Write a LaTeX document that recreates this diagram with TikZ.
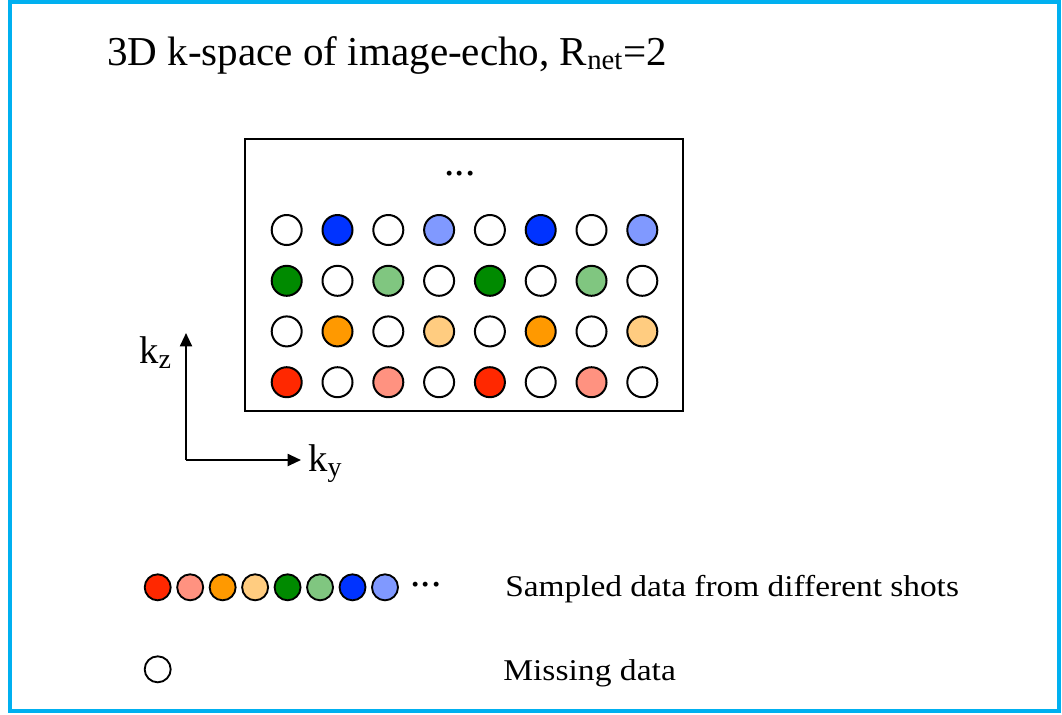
\documentclass[tikz,border=0pt]{standalone}
\usepackage{fontspec}
\setmainfont{Liberation Serif}
\usetikzlibrary{arrows.meta}
\definecolor{frameblue}{RGB}{0,176,240}
\definecolor{cRed}{RGB}{255,40,0}
\definecolor{cRedL}{RGB}{255,146,128}
\definecolor{cOra}{RGB}{255,153,0}
\definecolor{cOraL}{RGB}{255,204,128}
\definecolor{cGre}{RGB}{0,138,0}
\definecolor{cGreL}{RGB}{128,198,128}
\definecolor{cBlu}{RGB}{0,51,255}
\definecolor{cBluL}{RGB}{128,153,255}
\newcommand{\ksub}[1]{{\fontsize{21}{24}\selectfont\raisebox{-4pt}{#1}}}
\tikzset{
  dot/.style={circle, draw=black, line width=1.5pt, minimum size=22.5pt, inner sep=0pt},
  ldot/.style={circle, draw=black, line width=1.4pt, minimum size=19.5pt, inner sep=0pt},
  lbl/.style={inner sep=0pt, anchor=base west},
  klbl/.style={inner sep=0pt, anchor=base west, font=\fontsize{29}{34}\selectfont},
  legtxt/.style={inner sep=0pt, anchor=base west, font=\fontsize{22.6}{27}\selectfont},
  axis/.style={line width=1.5pt, -{Triangle[length=10pt,width=9pt]}}
}
\begin{document}
\begin{tikzpicture}[x=0.75pt,y=-0.75pt]
\useasboundingbox (0,0) rectangle (1062,714);
\draw[frameblue, line width=3pt] (10,2) rectangle (1059,711);
\node[lbl, font=\fontsize{30.8}{36}\selectfont] (title) at (107,65) {3D k-space of image-echo, R\textsubscript{net}=2};
\node[draw=black, line width=1.5pt, minimum width=328pt, minimum height=204pt, inner sep=0pt] (box) at (464,275) {};
\node[inner sep=0pt, anchor=base, font=\fontsize{31}{36}\selectfont] (vdots) at (460,175.5) {...};
% rows: top to bottom
\foreach \c [count=\i] in {white,cBlu,white,cBluL,white,cBlu,white,cBluL}
  \node[dot, fill=\c] (a\i) at ({286.7+50.8*(\i-1)},230) {};
\foreach \c [count=\i] in {cGre,white,cGreL,white,cGre,white,cGreL,white}
  \node[dot, fill=\c] (b\i) at ({286.7+50.8*(\i-1)},280.8) {};
\foreach \c [count=\i] in {white,cOra,white,cOraL,white,cOra,white,cOraL}
  \node[dot, fill=\c] (c\i) at ({286.7+50.8*(\i-1)},331.4) {};
\foreach \c [count=\i] in {cRed,white,cRedL,white,cRed,white,cRedL,white}
  \node[dot, fill=\c] (d\i) at ({286.7+50.8*(\i-1)},382.2) {};
% axes
\coordinate (o) at (186,460);
\coordinate (kzt) at (186,333);
\coordinate (kyt) at (301,460);
\draw[axis] (o) -- (kzt);
\draw[axis] (o) -- (kyt);
\node[klbl] (kz) at (139,363.5) {k\ksub{z}};
\node[klbl] (ky) at (308,471.5) {k\ksub{y}};
% legend
\foreach \c [count=\i] in {cRed,cRedL,cOra,cOraL,cGre,cGreL,cBlu,cBluL}
  \node[ldot, fill=\c] (l\i) at ({157.7+32.47*(\i-1)},587.3) {};
\node[inner sep=0pt, anchor=base, font=\fontsize{31}{36}\selectfont] (ldots) at (426,586.5) {...};
\node[ldot, fill=white] (lm) at (157.7,669.3) {};
\node[legtxt] (t1) at (505,596.7) {\scalebox{1.108}[1]{Sampled data from different shots}};
\node[legtxt] (t2) at (503,680) {\scalebox{1.115}[1]{Missing data}};
\end{tikzpicture}
\end{document}
